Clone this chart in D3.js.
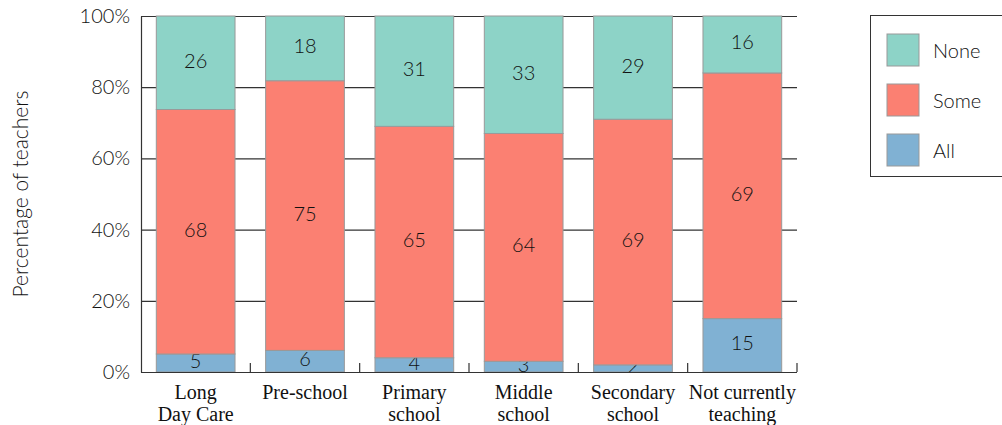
<!DOCTYPE html>
<html>
<head>
<meta charset="utf-8">
<script src="https://cdn.jsdelivr.net/npm/d3@7"></script>
<style>
  html, body { margin: 0; padding: 0; background: #fff; }
  svg { display: block; }
</style>
</head>
<body>
<svg id="chart" width="1002" height="425"></svg>
<script>
// Teachers' share by setting: stacked percentages
const categories = [["Long", "Day Care"], ["Pre-school"], ["Primary", "school"], ["Middle", "school"], ["Secondary", "school"], ["Not currently", "teaching"]];
const allValues  = [5, 6, 4, 3, 2, 15];
const someValues = [68, 75, 65, 64, 69, 69];
const noneValues = [26, 18, 31, 33, 29, 16];
const seriesNames = ["All", "Some", "None"];
const seriesColors = ["#80b1d3", "#fb8072", "#8dd3c7"];
const yTicks = [0, 0.2, 0.4, 0.6, 0.8, 1];

const rows = categories.map((c, i) => ({
  key: c.join(" "), lines: c,
  All: allValues[i], Some: someValues[i], None: noneValues[i]
}));

const svg = d3.select("#chart");
const plotLeft = 141, plotRight = 797, plotTop = 16, plotBottom = 372;
const numFont = "Lato, 'Open Sans', sans-serif";
const numWeight = 300;
const textColor = "#111";

const x = d3.scaleBand().domain(rows.map(d => d.key)).range([plotLeft, plotRight])
  .paddingInner(0.28).paddingOuter(0.14);
const y = d3.scaleLinear().domain([0, 1]).range([plotBottom, plotTop]);
const color = d3.scaleOrdinal().domain(seriesNames).range(seriesColors);

const stack = d3.stack().keys(seriesNames).offset(d3.stackOffsetExpand);
const layers = stack(rows);

// gridlines
svg.append("g").selectAll("line").data(yTicks.filter(t => t > 0)).join("line")
  .attr("x1", plotLeft).attr("x2", plotRight)
  .attr("y1", d => y(d) + 0.5).attr("y2", d => y(d) + 0.5)
  .attr("stroke", "#333").attr("stroke-width", 1.2);

// bars
const layerG = svg.append("g").selectAll("g").data(layers).join("g")
  .attr("fill", d => color(d.key));
layerG.selectAll("rect").data(d => d).join("rect")
  .attr("x", d => x(d.data.key))
  .attr("width", x.bandwidth())
  .attr("y", d => y(d[1]))
  .attr("height", d => y(d[0]) - y(d[1]))
  .attr("stroke", "#999").attr("stroke-width", 1);

// segment labels
layerG.each(function(layer) {
  d3.select(this).selectAll("text").data(layer).join("text")
    .attr("x", d => x(d.data.key) + x.bandwidth() / 2)
    .attr("y", d => (y(d[0]) + y(d[1])) / 2 - 3)
    .attr("text-anchor", "middle").attr("dominant-baseline", "central")
    .attr("fill", textColor).attr("font-family", numFont).attr("font-weight", numWeight).attr("font-size", 20)
    .text(d => d.data[layer.key]);
});

// y axis
const yAxis = d3.axisLeft(y).tickValues(yTicks).tickFormat(d3.format(".0%")).tickSize(0).tickPadding(11);
const yg = svg.append("g").attr("transform", `translate(${plotLeft},0)`).call(yAxis);
yg.select(".domain").attr("stroke", "#333").attr("stroke-width", 1.2);
yg.selectAll("text").attr("font-family", numFont).attr("font-weight", numWeight).attr("font-size", 20).attr("fill", textColor);

// x axis with ticks on band boundaries
const xg = svg.append("g").attr("transform", `translate(0,${plotBottom})`);
xg.append("line").attr("x1", plotLeft).attr("x2", plotRight).attr("y1", 0.5).attr("y2", 0.5)
  .attr("stroke", "#333").attr("stroke-width", 1.2);
const step = x.step();
xg.selectAll("line.tick").data(d3.range(1, rows.length + 1)).join("line")
  .attr("class", "tick")
  .attr("x1", i => plotLeft + i * step).attr("x2", i => plotLeft + i * step)
  .attr("y1", 0).attr("y2", -9).attr("stroke", "#333").attr("stroke-width", 1.2);
xg.selectAll("text").data(rows).join("text")
  .attr("x", d => x(d.key) + x.bandwidth() / 2)
  .attr("y", 27)
  .attr("text-anchor", "middle")
  .attr("font-family", "'Liberation Serif', 'Times New Roman', serif").attr("font-size", 20).attr("fill", "#111")
  .each(function(d) {
    d3.select(this).selectAll("tspan").data(d.lines).join("tspan")
      .attr("x", x(d.key) + x.bandwidth() / 2)
      .attr("dy", (l, i) => i === 0 ? 0 : 22)
      .text(l => l);
  });

// y axis title
svg.append("text")
  .attr("transform", `translate(28,${(plotTop + plotBottom) / 2}) rotate(-90)`)
  .attr("text-anchor", "middle")
  .attr("font-family", numFont).attr("font-weight", numWeight).attr("font-size", 21).attr("fill", textColor)
  .text("Percentage of teachers");

// legend
const legend = svg.append("g");
legend.append("rect").attr("x", 870.5).attr("y", 15.5).attr("width", 140).attr("height", 161)
  .attr("fill", "#fff").attr("stroke", "#333").attr("stroke-width", 1);
const legendItems = seriesNames.slice().reverse();
const li = legend.selectAll("g.item").data(legendItems).join("g").attr("class", "item")
  .attr("transform", (d, i) => `translate(887,${34 + i * 50})`);
li.append("rect").attr("width", 32).attr("height", 32)
  .attr("fill", d => color(d)).attr("stroke", "#999").attr("stroke-width", 1);
li.append("text").attr("x", 46).attr("y", 16).attr("dominant-baseline", "central")
  .attr("font-family", numFont).attr("font-weight", numWeight).attr("font-size", 20).attr("fill", textColor)
  .text(d => d);
</script>
</body>
</html>
